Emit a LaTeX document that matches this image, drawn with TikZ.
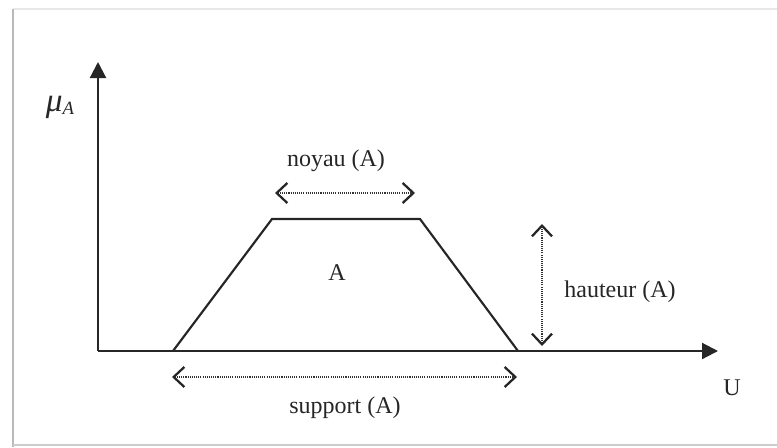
\documentclass[tikz,border=0pt]{standalone}
\usepackage{fontspec}
\setmainfont{Liberation Serif}
\usetikzlibrary{arrows.meta}
\begin{document}
\begin{tikzpicture}[x=0.75pt,y=-0.75pt,
  axis/.style={line width=1.6pt,black!85,-{Triangle[length=12pt,width=12pt]}},
  curve/.style={line width=1.6pt,black!85,line join=miter},
  measure/.style={line width=0.9pt,dash pattern=on 0.8pt off 0.8pt,black!80,
     {Straight Barb[length=8pt,width=15pt,line width=1.7pt,color=black!85]}-{Straight Barb[length=8pt,width=15pt,line width=1.7pt,color=black!85]}},
  lbl/.style={font=\fontsize{18}{20}\selectfont,inner sep=0pt,text=black!85}]
\useasboundingbox (0,0) rectangle (777,447);
% frame
\draw[gray!18,line width=1.2pt] (13,9) -- (777,9);
\draw[gray!55,line width=2pt] (13,9) -- (13,447);
\draw[gray!40,line width=1.5pt] (13,445) -- (777,445);
% axes
\coordinate (O) at (98,351);
\coordinate (Ytip) at (98,62);
\coordinate (Xtip) at (718,351);
\draw[axis] (O) -- (Ytip);
\draw[axis] (O) -- (Xtip);
% trapezoid
\coordinate (BL) at (173,351);
\coordinate (TL) at (272,219);
\coordinate (TR) at (420,219);
\coordinate (BR) at (518,351);
\draw[curve] (BL) -- (TL) -- (TR) -- (BR);
% measures
\coordinate (n1) at (275,193);
\coordinate (n2) at (415,193);
\draw[measure] (n1) -- (n2);
\coordinate (h1) at (542,224);
\coordinate (h2) at (542,346);
\draw[measure] (h1) -- (h2);
\coordinate (s1) at (172,377);
\coordinate (s2) at (517,377);
\draw[measure] (s1) -- (s2);
% labels
\node[lbl] (noyau) at (336,161) {noyau (A)};
\node[lbl] (A) at (337,273) {A};
\node[lbl] (haut) at (620,292) {hauteur (A)};
\node[lbl] (supp) at (345,408) {support (A)};
\node[lbl] (U) at (732,388) {U};
\node[inner sep=0pt,text=black!85] (mu) at (60,107) {{\fontsize{25}{25}\selectfont\itshape μ}\raisebox{-0.6ex}{\fontsize{14}{14}\selectfont\itshape A}};
\end{tikzpicture}
\end{document}
